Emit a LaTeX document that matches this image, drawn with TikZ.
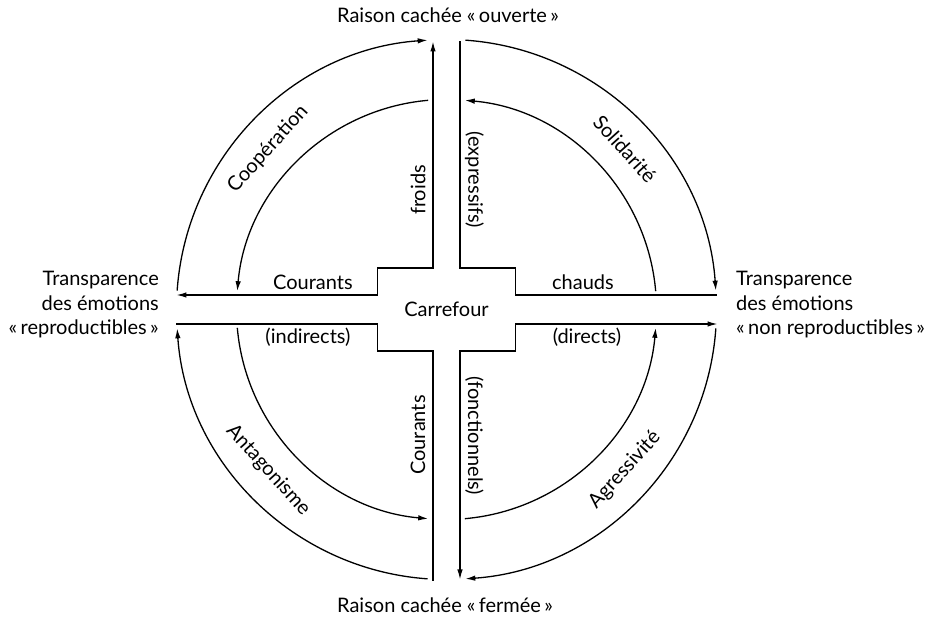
\documentclass[tikz,border=0pt]{standalone}
\usepackage{fontspec}
\setmainfont{Lato}
\usetikzlibrary{arrows.meta}

\tikzset{
    courant/.style={line width=1.3pt},
    texte/.style={font=\fontsize{20}{24.5}\selectfont, inner sep=1pt},
    >={Latex[length=10pt,width=5.5pt]}
}

\begin{document}
\begin{tikzpicture}[x=1pt,y=1pt]
                \useasboundingbox (-446.5,-307.5) rectangle (495.5,309.5);

                % le carrefour
                \draw[courant,<->] (-270,14.5) -- (-69,14.5) -- (-69,41.5) -- (-13.5,41.5) -- (-13.5,268);
                \draw[courant] (13.5,268) -- (13.5,41.5) -- (69,41.5) -- (69,14.5) -- (270,14.5);
                \draw[courant] (-270,-14.5) -- (-69,-14.5) -- (-69,-41.5) -- (-13.5,-41.5) -- (-13.5,-272);
                \draw[courant,<->] (13.5,-270) -- (13.5,-41.5) -- (69,-41.5) -- (69,-14.5) -- (271,-14.5);

                % cercle exterieur
                \draw[courant,->] (176:270) arc[start angle=176, end angle=94, radius=270];
                \draw[courant,->] (86:270) arc[start angle=86, end angle=4, radius=270];
                \draw[courant,->] (-4:270) arc[start angle=-4, end angle=-86, radius=270];
                \draw[courant,->] (-94:270) arc[start angle=-94, end angle=-176, radius=270];

                % cercle interieur
                \draw[courant,->] (95:210) arc[start angle=95, end angle=175, radius=210];
                \draw[courant,->] (5:210) arc[start angle=5, end angle=85, radius=210];
                \draw[courant,->] (-85:210) arc[start angle=-85, end angle=-5, radius=210];
                \draw[courant,->] (-175:210) arc[start angle=-175, end angle=-95, radius=210];

                \node[texte] (carrefour) at (0,0) {Carrefour};

                \node[texte] (cooperation) at (138:240) [rotate=48] {Coopération};
                \node[texte] (solidarite) at (42:240) [rotate=-48] {Solidarité};
                \node[texte] (agressivite) at (-42:240) [rotate=48] {Agressivité};
                \node[texte] (antagonisme) at (-138:240) [rotate=-48] {Antagonisme};

                \node[texte] (froids) at (-28.5,119.5) [rotate=90] {froids};
                \node[texte] (expressifs) at (28,129.5) [rotate=-90] {(expressifs)};
                \node[texte] (courantsbas) at (-28.5,-125.5) [rotate=90] {Courants};
                \node[texte] (fonctionnels) at (28,-126.5) [rotate=-90] {(fonctionnels)};

                \node[texte] (courants) at (-133.5,27.5) {Courants};
                \node[texte] (indirects) at (-138.5,-27.5) {(indirects)};
                \node[texte] (chauds) at (136.5,27.5) {chauds};
                \node[texte] (directs) at (140.5,-27.5) {(directs)};

                \node[texte] (ouverte) at (1.5,294.5) {Raison cachée «\,ouverte\,»};
                \node[texte] (fermee) at (-1.5,-295.5) {Raison cachée «\,fermée\,»};

                \node[texte, align=right, anchor=east] (reproductibles) at (-286.5,4.5) {Transparence\\des émotions\\«\,reproductibles\,»};
                \node[texte, align=left, anchor=west] (nonreproductibles) at (288.5,4.5) {Transparence\\des émotions\\«\,non reproductibles\,»};
            \end{tikzpicture}
\end{document}
